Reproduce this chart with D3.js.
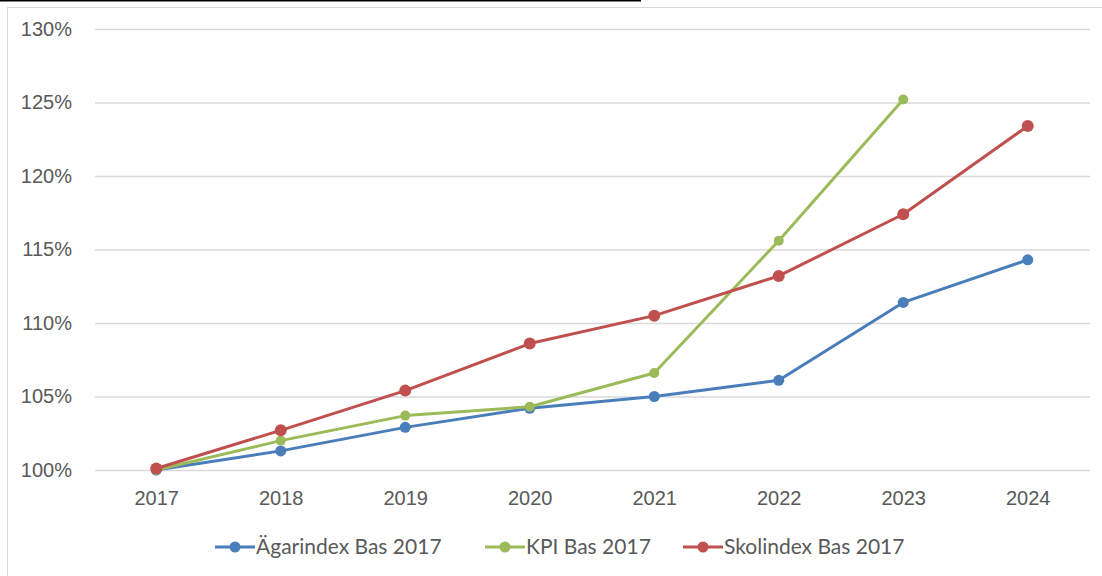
<!DOCTYPE html>
<html>
<head>
<meta charset="utf-8">
<script src="https://cdn.jsdelivr.net/npm/d3@7"></script>
<style>
  body { margin: 0; background: #fff; }
  svg { display: block; font-family: Lato, 'Open Sans', sans-serif; }
</style>
</head>
<body>
<div id="chart"></div>
<script>
// data
const years = ['2017', '2018', '2019', '2020', '2021', '2022', '2023', '2024'];
const agarindex = [100.0, 101.3, 102.9, 104.2, 105.0, 106.1, 111.4, 114.3];
const kpi = [100.0, 102.0, 103.7, 104.3, 106.6, 115.6, 125.2];
const skolindex = [100.1, 102.7, 105.4, 108.6, 110.5, 113.2, 117.4, 123.4];
const yTicks = [100, 105, 110, 115, 120, 125, 130];

const series = [
  { name: 'Ägarindex Bas 2017', values: agarindex, color: '#4a7ebb', r: 5.5 },
  { name: 'KPI Bas 2017', values: kpi, color: '#9bbb59', r: 5 },
  { name: 'Skolindex Bas 2017', values: skolindex, color: '#c0504d', r: 6 }
];

const width = 1102;
const height = 576;

const svg = d3.select('#chart').append('svg')
  .attr('width', width)
  .attr('height', height);

// cut-off caption underline at the very top
svg.append('line')
  .attr('x1', 0).attr('x2', 641)
  .attr('y1', 0.75).attr('y2', 0.75)
  .attr('stroke', '#000')
  .attr('stroke-width', 1.5);

// chart frame
svg.append('rect')
  .attr('x', 7.5).attr('y', 7.5)
  .attr('width', 1110).attr('height', 600)
  .attr('fill', '#fff')
  .attr('stroke', '#d9d9d9');

/* Scales */
const xScale = d3.scalePoint()
  .domain(years)
  .range([94, 1090])
  .padding(0.5);

const yScale = d3.scaleLinear()
  .domain([100, 130])
  .range([470, 29]);

/* Grid + y axis */
const yAxis = d3.axisLeft(yScale)
  .tickValues(yTicks)
  .tickSize(-(1090 - 95))
  .tickPadding(23)
  .tickFormat(d => d + '%');

const gy = svg.append('g')
  .attr('transform', 'translate(95,0)')
  .call(yAxis);
gy.select('.domain').remove();
gy.selectAll('.tick line')
  .attr('stroke', '#d9d9d9')
  .attr('stroke-width', 1.3)
  .attr('x1', 0).attr('x2', 1090 - 95);
gy.selectAll('.tick text')
  .attr('fill', '#595959')
  .style('font-size', '20px');

/* x axis */
const xAxis = d3.axisBottom(xScale).tickSize(0).tickPadding(21);
const gx = svg.append('g')
  .attr('transform', 'translate(0,470)')
  .call(xAxis);
gx.select('.domain').remove();
gx.selectAll('.tick text')
  .attr('fill', '#595959')
  .style('font-size', '20px');

/* lines */
const line = d3.line()
  .x((d, i) => xScale(years[i]))
  .y(d => yScale(d));

const groups = svg.append('g').attr('class', 'lines')
  .selectAll('g')
  .data(series).enter()
  .append('g');

groups.append('path')
  .attr('fill', 'none')
  .attr('stroke', d => d.color)
  .attr('stroke-width', 3)
  .attr('stroke-linejoin', 'round')
  .attr('d', d => line(d.values));

groups.selectAll('circle')
  .data(d => d.values.map((v, i) => ({ v, i, s: d }))).enter()
  .append('circle')
  .attr('cx', d => xScale(years[d.i]))
  .attr('cy', d => yScale(d.v))
  .attr('r', d => d.s.r)
  .attr('fill', d => d.s.color);

/* legend */
const legendX = [215, 485, 683];
const legend = svg.append('g').attr('class', 'legend')
  .selectAll('g')
  .data(series).enter()
  .append('g')
  .attr('transform', (d, i) => `translate(${legendX[i]},547)`);

legend.append('line')
  .attr('x1', 0).attr('x2', 40)
  .attr('stroke', d => d.color)
  .attr('stroke-width', 3);
legend.append('circle')
  .attr('cx', 20).attr('r', 5.5)
  .attr('fill', d => d.color);
legend.append('text')
  .attr('x', 41)
  .attr('dy', '0.35em')
  .attr('fill', '#595959')
  .style('font-size', '21px')
  .text(d => d.name);
</script>
</body>
</html>
